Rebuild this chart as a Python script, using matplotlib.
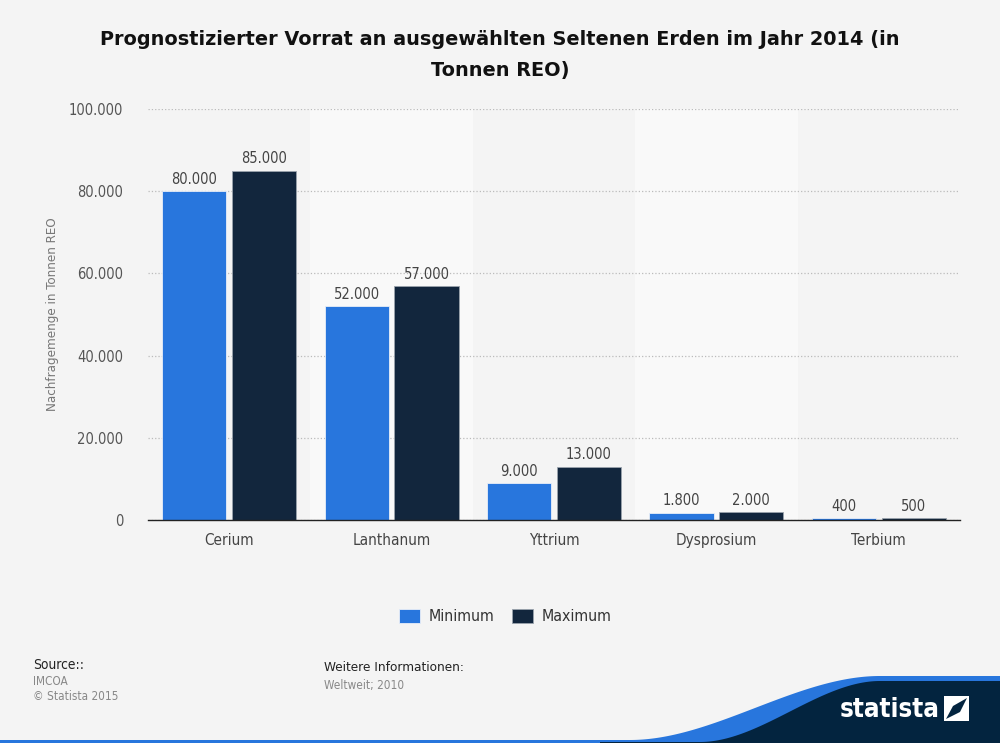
import numpy as np
import matplotlib
matplotlib.use('Agg')
import matplotlib.pyplot as plt
from matplotlib import font_manager
from matplotlib.patches import Polygon, Rectangle

categories = ['Cerium', 'Lanthanum', 'Yttrium', 'Dysprosium', 'Terbium']
minimum = [80000, 52000, 9000, 1800, 400]
maximum = [85000, 57000, 13000, 2000, 500]
series_names = ['Minimum', 'Maximum']
yticks = [0, 20000, 40000, 60000, 80000, 100000]


def fmt(v):
    return '{:,}'.format(int(v)).replace(',', '.')


BG = '#f4f4f4'
BLUE = '#2876dd'
NAVY = '#12263d'
COND = dict(family='DejaVu Sans', stretch='condensed')

fig = plt.figure(figsize=(10, 7.43), dpi=100, facecolor=BG)
ax = fig.add_axes([0.148, 0.3001, 0.812, 0.5532])
ax.set_facecolor(BG)

x = np.arange(len(categories))
# alternating lighter bands
for i in x:
    if i % 2 == 1:
        ax.axvspan(i - 0.5, i + 0.5, color='#f9f9f9', zorder=0, lw=0)

w = 0.395
b1 = ax.bar(x - 0.215, minimum, w, color=BLUE, edgecolor='#e8eef8', linewidth=0.6, zorder=3, label=series_names[0])
b2 = ax.bar(x + 0.215, maximum, w, color=NAVY, edgecolor='#9aa3ad', linewidth=0.6, zorder=3, label=series_names[1])

for bars, vals in ((b1, minimum), (b2, maximum)):
    for r, v in zip(bars, vals):
        ax.annotate(fmt(v), (r.get_x() + r.get_width() / 2, v), xytext=(0, 3),
                    textcoords='offset points', ha='center', va='bottom',
                    fontsize=10.5, color='#444444', **COND)

ax.set_xlim(-0.5, len(categories) - 0.5)
ax.set_ylim(0, 100000)
ax.set_yticks(yticks)
ax.set_yticklabels([fmt(v) for v in yticks], fontsize=10.5, color='#555555', **COND)
ax.set_xticks(x)
ax.set_xticklabels(categories, fontsize=11, color='#444444', **COND)
ax.tick_params(axis='both', length=0)
ax.tick_params(axis='y', pad=26)
ax.tick_params(axis='x', pad=9)
ax.grid(axis='y', color='#bbbbbb', linestyle=':', linewidth=0.9, zorder=1)
for s in ['top', 'right', 'left']:
    ax.spines[s].set_visible(False)
ax.spines['bottom'].set_color('#222222')
ax.spines['bottom'].set_linewidth(1.0)
ax.spines['bottom'].set_zorder(4)
ax.tick_params(axis='y', pad=18)

fig.text(0.053, 0.5775, 'Nachfragemenge in Tonnen REO', rotation=90, ha='center', va='center',
         fontsize=9.5, color='#777777', **COND)

fig.text(0.5, 0.947, 'Prognostizierter Vorrat an ausgewählten Seltenen Erden im Jahr 2014 (in',
         ha='center', va='center', fontsize=13.9, fontweight='bold', color='#111111')
fig.text(0.5, 0.905, 'Tonnen REO)', ha='center', va='center', fontsize=13.9, fontweight='bold', color='#111111')

leg = fig.legend(loc='center', bbox_to_anchor=(0.505, 0.170), ncol=2, frameon=False,
                 prop=font_manager.FontProperties(size=11.3, **COND),
                 handlelength=1.35, handleheight=1.0, columnspacing=1.1, handletextpad=0.55)
for t in leg.get_texts():
    t.set_color('#333333')

# footer
fig.text(0.033, 0.105, 'Source::', fontsize=9.9, color='#222222', va='center', **COND)
fig.text(0.033, 0.083, 'IMCOA', fontsize=8.5, color='#888888', va='center', **COND)
fig.text(0.033, 0.062, '© Statista 2015', fontsize=8.5, color='#888888', va='center', **COND)
fig.text(0.324, 0.102, 'Weitere Informationen:', fontsize=9.7, color='#222222', va='center', **COND)
fig.text(0.324, 0.078, 'Weltweit; 2010', fontsize=8.5, color='#888888', va='center', **COND)

# statista wave
W, H = 1000.0, 743.0
xs = np.linspace(600, 1000, 200)
t = np.clip((xs - 630) / (880 - 630), 0, 1)
s = t * t * (3 - 2 * t)
top_y = 740 - (740 - 676) * s
pts_blue = [(xx / W, 1 - yy / H) for xx, yy in zip(xs, top_y)] + [(1.0, 0.0), (600 / W, 0.0)]
fig.patches.append(Polygon(pts_blue, closed=True, transform=fig.transFigure, color=BLUE, lw=0, zorder=1))
t2 = np.clip((xs - 700) / (880 - 700), 0, 1)
s2 = t2 * t2 * (3 - 2 * t2)
top_y2 = 742 - (742 - 681) * s2
pts_navy = [(xx / W, 1 - yy / H) for xx, yy in zip(xs, top_y2)] + [(1.0, 0.0), (600 / W, 0.0)]
fig.patches.append(Polygon(pts_navy, closed=True, transform=fig.transFigure, color='#03243f', lw=0, zorder=2))
fig.patches.append(Rectangle((0, 0), 1, 3 / H, transform=fig.transFigure, color=BLUE, lw=0, zorder=1))
fig.text(0.890, 1 - 710 / H, 'statista', fontsize=18.5, fontweight='bold', color='white',
         ha='center', va='center', zorder=5, **COND)
fig.patches.append(Rectangle((944 / W, 1 - 721 / H), 25 / W, 25 / H, transform=fig.transFigure,
                             color='white', lw=0, zorder=5))
fig.patches.append(Polygon([(946 / W, 1 - 719 / H), (960 / W, 1 - 712 / H), (967 / W, 1 - 698 / H),
                            (953 / W, 1 - 706 / H)], closed=True, transform=fig.transFigure,
                           color='#03243f', lw=0, zorder=6))

fig.savefig('out.png', dpi=100, facecolor=BG)
